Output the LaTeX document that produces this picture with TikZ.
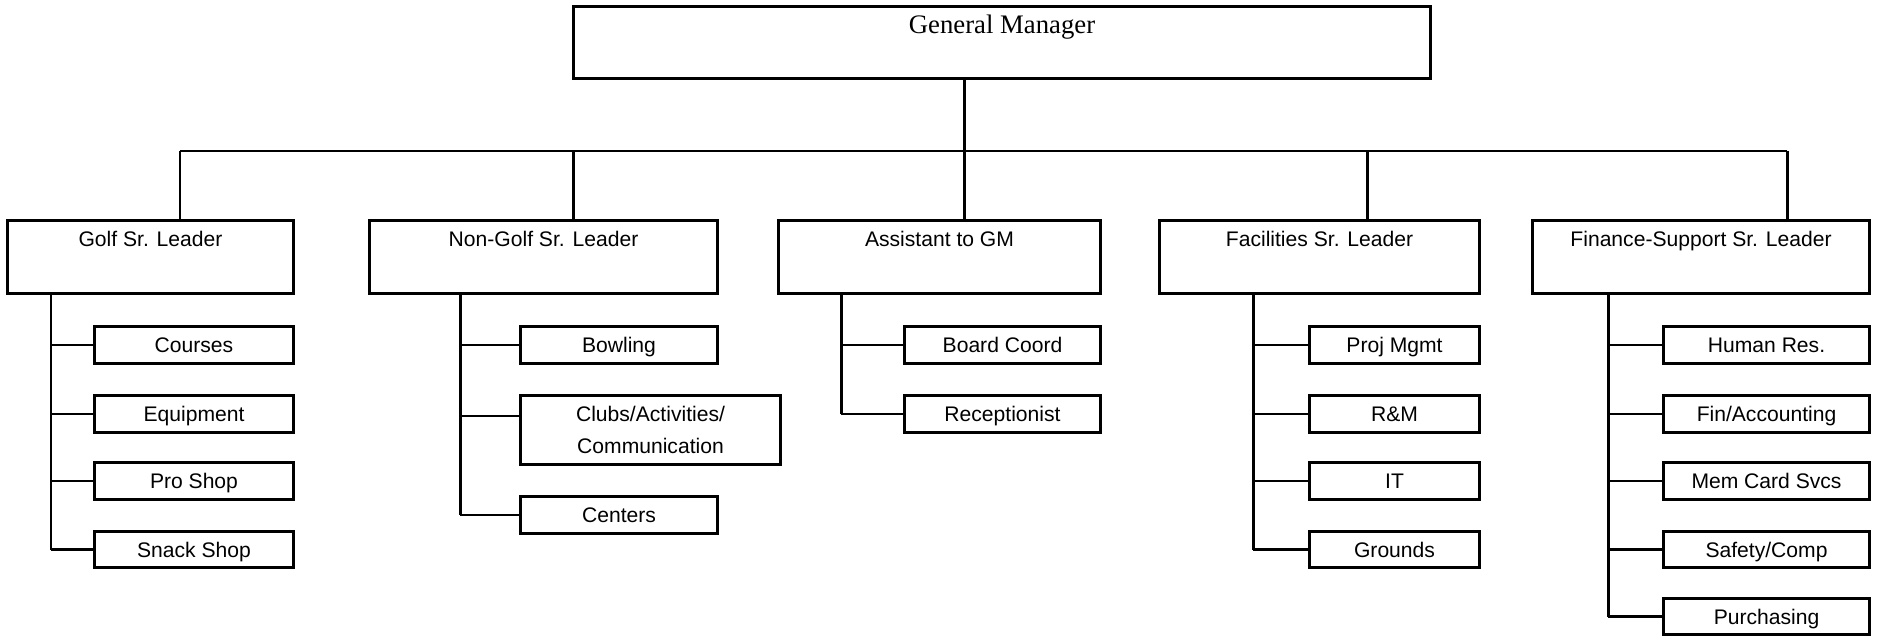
\documentclass[tikz,border=0pt]{standalone}
\usepackage{fontspec}
\setmainfont{Liberation Sans}
\newfontfamily\gmfont{Liberation Serif}
\usetikzlibrary{positioning}

\begin{document}
\begin{tikzpicture}[x=0.01cm, y=-0.01cm, line width=0.85pt,
        head/.style={draw, inner sep=0pt, minimum width=8.56cm, text height=0.27cm, text depth=0.45cm,
            font=\gmfont\fontsize{7.6pt}{9pt}\selectfont},
        leader/.style={draw, inner sep=0pt, anchor=north, text height=0.26cm, text depth=0.47cm,
            font=\fontsize{6pt}{7pt}\selectfont},
        twoline/.style={draw, inner sep=0pt, minimum height=0.36cm, align=center,
            font=\fontsize{6pt}{9pt}\selectfont},
        unit/.style={twoline, text height=4.5pt, text depth=0pt}]
        \useasboundingbox (0,0) rectangle (1883,637);

        \node[head, anchor=north] (gm) at (1002,5) {General Manager};

        \node[leader, minimum width=2.85cm] (golf) at (150.5,219) {Golf Sr. Leader};
        \node[leader, minimum width=3.47cm] (nongolf) at (543.5,219) {Non-Golf Sr. Leader};
        \node[leader, minimum width=3.21cm] (asst) at (939.5,219) {Assistant to GM};
        \node[leader, minimum width=3.19cm] (fac) at (1319.5,219) {Facilities Sr. Leader};
        \node[leader, minimum width=3.36cm] (fin) at (1701,219) {Finance-Support Sr. Leader};

        \coordinate (d1) at (180,151);
        \coordinate (d2) at (573,151);
        \coordinate (d3) at (964,151);
        \coordinate (d4) at (1367,151);
        \coordinate (d5) at (1787,151);

        \draw (d1) -- (d5)
            (d1) -- (d1 |- golf.north)
            (d2) -- (d2 |- nongolf.north)
            (d3 |- gm.south) -- (d3 |- asst.north)
            (d4) -- (d4 |- fac.north)
            (d5) -- (d5 |- fin.north);

        % golf
        \node[unit, minimum width=1.98cm] (courses) at (194,345) {Courses};
        \node[unit, minimum width=1.98cm] (equip) at (194,414) {Equipment};
        \node[unit, minimum width=1.98cm] (proshop) at (194,481) {Pro Shop};
        \node[unit, minimum width=1.98cm] (snack) at (194,549.5) {Snack Shop};
        \coordinate (s1) at (51,0);

        \draw (s1 |- golf.south) -- (s1 |- snack.west)
            (s1 |- courses.west) -- (courses.west)
            (s1 |- equip.west) -- (equip.west)
            (s1 |- proshop.west) -- (proshop.west)
            (s1 |- snack.west) -- (snack.west);

        % non-golf
        \node[unit, minimum width=1.96cm] (bowling) at (619,345) {Bowling};
        \node[twoline, minimum width=2.59cm, minimum height=0.68cm] (clubs) at (650.5,430) {Clubs/Activities/\\Communication};
        \node[unit, minimum width=1.96cm] (centers) at (619,515) {Centers};
        \coordinate (s2) at (460,0);

        \draw (s2 |- nongolf.south) -- (s2 |- centers.west)
            (s2 |- bowling.west) -- (bowling.west)
            (s2 |- 0,416) -- (clubs.west |- 0,416)
            (s2 |- centers.west) -- (centers.west);

        % assistant
        \node[unit, minimum width=1.95cm] (board) at (1002.5,345) {Board Coord};
        \node[unit, minimum width=1.95cm] (recep) at (1002.5,414) {Receptionist};
        \coordinate (s3) at (841,0);

        \draw (s3 |- asst.south) -- (s3 |- recep.west)
            (s3 |- board.west) -- (board.west)
            (s3 |- recep.west) -- (recep.west);

        % facilities
        \node[unit, minimum width=1.69cm] (projmgmt) at (1394.5,345) {Proj Mgmt};
        \node[unit, minimum width=1.69cm] (rm) at (1394.5,414) {R\&M};
        \node[unit, minimum width=1.69cm] (it) at (1394.5,481) {IT};
        \node[unit, minimum width=1.69cm] (grounds) at (1394.5,549.5) {Grounds};
        \coordinate (s4) at (1253,0);

        \draw (s4 |- fac.south) -- (s4 |- grounds.west)
            (s4 |- projmgmt.west) -- (projmgmt.west)
            (s4 |- rm.west) -- (rm.west)
            (s4 |- it.west) -- (it.west)
            (s4 |- grounds.west) -- (grounds.west);

        % finance
        \node[unit, minimum width=2.05cm] (hr) at (1766.5,345) {Human Res.};
        \node[unit, minimum width=2.05cm] (finacc) at (1766.5,414) {Fin/Accounting};
        \node[unit, minimum width=2.05cm] (memcard) at (1766.5,481) {Mem Card Svcs};
        \node[unit, minimum width=2.05cm] (safety) at (1766.5,549.5) {Safety/Comp};
        \node[unit, minimum width=2.05cm] (purch) at (1766.5,616.5) {Purchasing};
        \coordinate (s5) at (1608,0);

        \draw (s5 |- fin.south) -- (s5 |- purch.west)
            (s5 |- hr.west) -- (hr.west)
            (s5 |- finacc.west) -- (finacc.west)
            (s5 |- memcard.west) -- (memcard.west)
            (s5 |- safety.west) -- (safety.west)
            (s5 |- purch.west) -- (purch.west);
    \end{tikzpicture}
\end{document}
